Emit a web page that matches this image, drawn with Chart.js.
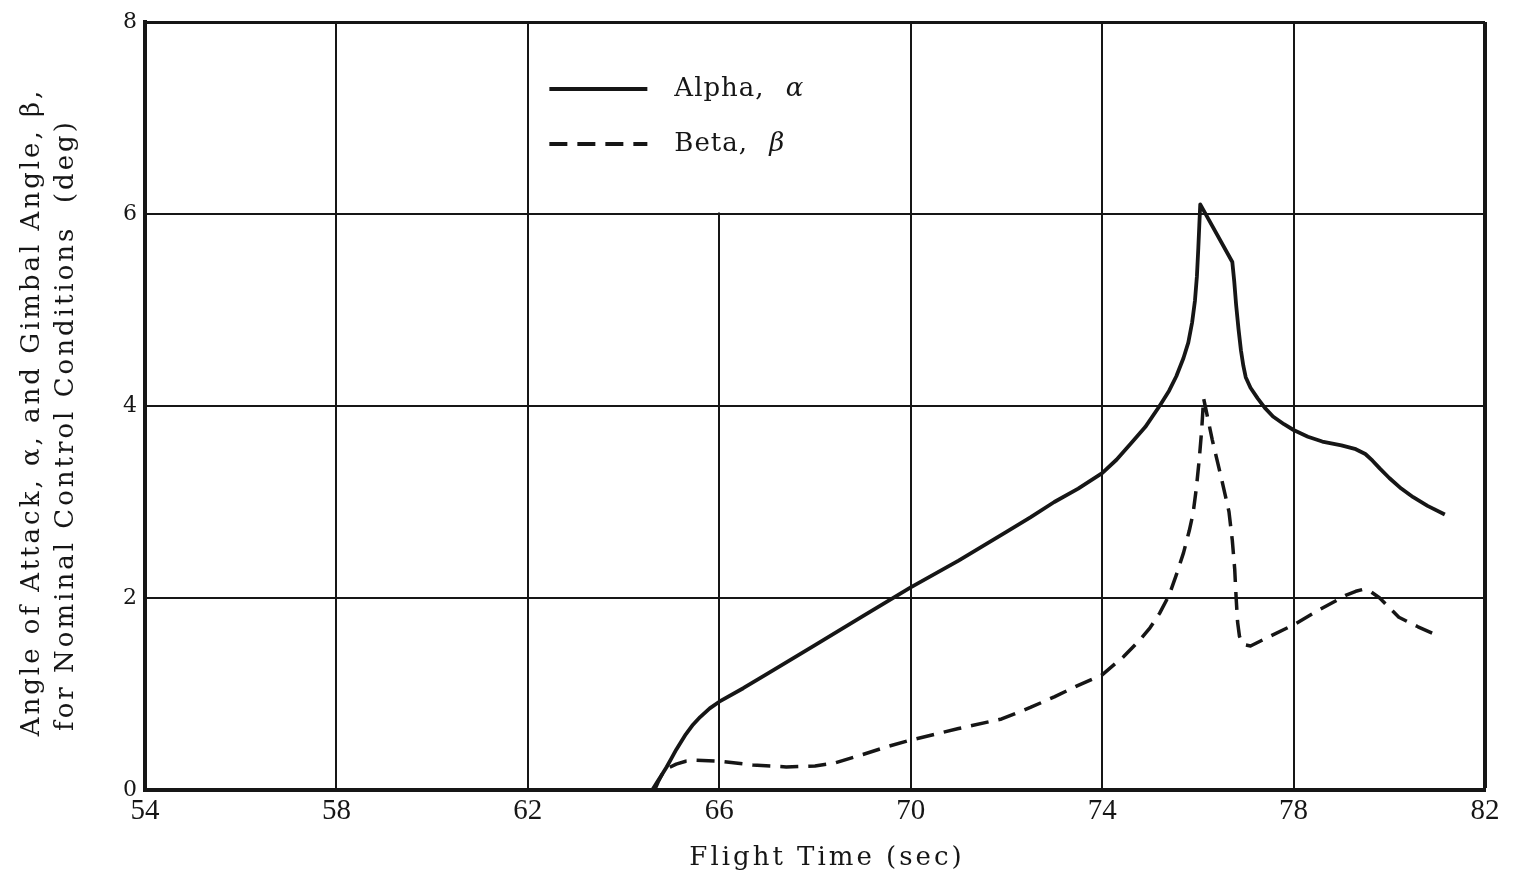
<!DOCTYPE html>
<html>
<head>
<meta charset="utf-8">
<title>Angle of attack and gimbal angle</title>
<script src="https://cdn.jsdelivr.net/npm/chart.js@4/dist/chart.umd.min.js"></script>
<style>
  html, body { margin: 0; padding: 0; background: #fff; }
  #wrap { width: 1517px; height: 879px; }
</style>
</head>
<body>
<div id="wrap"><canvas id="grafiek"></canvas></div>
<script>
// flight time (sec) and angles (deg)
const alphaTijd = [64.6, 64.7, 64.8, 64.9, 65.0, 65.1, 65.2, 65.3, 65.45, 65.6, 65.8, 66.0, 66.5, 67.0, 68.0, 69.0, 70.0, 71.0, 72.0, 72.5, 73.0, 73.5, 74.0,
                   74.3, 74.6, 74.9, 75.2, 75.4, 75.55, 75.7, 75.8, 75.88, 75.94, 75.98, 76.01, 76.03, 76.05,
                   76.72, 76.76, 76.8, 76.85, 76.9, 76.95, 77.0, 77.1, 77.25, 77.4, 77.57, 77.8, 78.0, 78.3, 78.6, 79.0, 79.3, 79.5, 79.65, 79.8, 80.0, 80.25, 80.5, 80.8, 81.16];
const alphaHoek = [0, 0.08, 0.16, 0.24, 0.33, 0.42, 0.50, 0.58, 0.68, 0.76, 0.85, 0.92, 1.06, 1.21, 1.51, 1.81, 2.11, 2.39, 2.69, 2.84, 3.0, 3.14, 3.3,
                   3.44, 3.61, 3.78, 4.0, 4.16, 4.31, 4.5, 4.66, 4.87, 5.1, 5.35, 5.65, 5.88, 6.1,
                   5.5, 5.3, 5.05, 4.8, 4.58, 4.42, 4.3, 4.19, 4.08, 3.98, 3.89, 3.81, 3.75, 3.68, 3.63, 3.59, 3.55, 3.5, 3.43, 3.35, 3.25, 3.14, 3.05, 2.96, 2.87];

const betaTijd = [64.65, 64.72, 64.8, 64.9, 65.1, 65.3, 65.5, 66.0, 66.7, 67.4, 68.0, 68.4, 69.0, 69.5, 70.0, 71.0, 71.9, 72.5, 73.0, 73.5, 74.0,
                  74.45, 74.8, 75.0, 75.2, 75.4, 75.55, 75.7, 75.82, 75.9, 75.97, 76.03, 76.08, 76.12,
                  76.3, 76.5, 76.65, 76.72, 76.77, 76.8, 76.83, 76.87, 76.93, 77.0, 77.1, 77.3, 77.5, 78.0, 78.55, 79.1, 79.3, 79.45, 79.6, 79.8, 80.0, 80.2, 80.6, 81.0];
const betaHoek = [0, 0.08, 0.16, 0.22, 0.27, 0.30, 0.31, 0.30, 0.26, 0.24, 0.25, 0.28, 0.37, 0.45, 0.52, 0.64, 0.74, 0.86, 0.97, 1.09, 1.2,
                  1.39, 1.57, 1.69, 1.84, 2.03, 2.24, 2.47, 2.7, 2.88, 3.15, 3.45, 3.75, 4.08,
                  3.65, 3.23, 2.9, 2.6, 2.3, 2.0, 1.75, 1.6, 1.53, 1.51, 1.5, 1.55, 1.6, 1.72, 1.88, 2.03, 2.07, 2.09, 2.07, 2.0, 1.9, 1.8, 1.7, 1.61];

const xMin = 54, xMax = 82, xStap = 4;
const yMin = 0, yMax = 8, yStap = 2;

const xTitel = 'Flight Time (sec)';
const yTitel = ['Angle of Attack, α, and Gimbal Angle, β,', 'for Nominal Control Conditions  (deg)'];
const legendaNaam = ['Alpha,', 'Beta,'];
const legendaSymbool = ['α', 'β'];

const inkt = '#161616';
const serif = '"DejaVu Serif", "Liberation Serif", serif';
const smal = '"Liberation Serif", "DejaVu Serif", serif';

const punten = (xs, ys) => xs.map((x, i) => ({ x, y: ys[i] }));

// white page behind the plot
const achtergrond = {
    id: 'achtergrond',
    beforeDraw(chart) {
        const { ctx, width, height } = chart;
        ctx.save();
        ctx.fillStyle = '#fff';
        ctx.fillRect(0, 0, width, height);
        ctx.restore();
    }
};

// legend sits in a blank box over the grid cell 62-70 / 6-8
const legendaBlok = {
    id: 'legendaBlok',
    beforeDatasetsDraw(chart) {
        const { ctx, scales: { x, y } } = chart;
        const l = x.getPixelForValue(62) + 1.5, r = x.getPixelForValue(70) - 1.5;
        const t = y.getPixelForValue(8) + 2, b = y.getPixelForValue(6) - 1.5;
        ctx.save();
        ctx.fillStyle = '#fff';
        ctx.fillRect(l, t, r - l, b - t);

        const x0 = l + 20, x1 = l + 118, tx = l + 145;
        const rijen = [t + 65, t + 120];
        chart.data.datasets.forEach((ds, i) => {
            ctx.beginPath();
            ctx.lineWidth = 4;
            ctx.strokeStyle = inkt;
            ctx.setLineDash(ds.borderDash || []);
            ctx.moveTo(x0, rijen[i]);
            ctx.lineTo(x1, rijen[i]);
            ctx.stroke();
            ctx.setLineDash([]);
            ctx.fillStyle = inkt;
            ctx.textBaseline = 'middle';
            ctx.font = '26px ' + serif;
            ctx.letterSpacing = '1px';
            ctx.fillText(legendaNaam[i], tx, rijen[i]);
            const w = ctx.measureText(legendaNaam[i] + ' ').width;
            ctx.font = 'italic 26px ' + serif;
            ctx.fillText(legendaSymbool[i], tx + w + 12, rijen[i]);
        });
        ctx.restore();
    }
};

// spaced-out axis titles
const asTitels = {
    id: 'asTitels',
    afterDraw(chart) {
        const { ctx, scales: { x } } = chart;
        ctx.save();
        ctx.fillStyle = inkt;
        ctx.textAlign = 'center';
        ctx.textBaseline = 'middle';

        ctx.font = '26px ' + serif;
        ctx.letterSpacing = '3px';
        ctx.fillText(xTitel, (x.left + x.right) / 2 + 12, 858);

        const kolommen = [32, 66];
        const midden = [412, 425];
        yTitel.forEach((regel, i) => {
            ctx.save();
            ctx.translate(kolommen[i], midden[i]);
            ctx.rotate(-Math.PI / 2);
            ctx.fillText(regel, 0, 0);
            ctx.restore();
        });
        ctx.restore();
    }
};

new Chart(document.getElementById('grafiek'), {
    type: 'line',
    data: {
        datasets: [
            { label: 'Alpha', data: punten(alphaTijd, alphaHoek), borderColor: inkt, borderWidth: 3.8,
              pointRadius: 0, tension: 0, borderJoinStyle: 'round', fill: false },
            { label: 'Beta', data: punten(betaTijd, betaHoek), borderColor: inkt, borderWidth: 3.5,
              borderDash: [18, 10], pointRadius: 0, tension: 0, borderJoinStyle: 'round', fill: false }
        ]
    },
    options: {
        responsive: true,
        maintainAspectRatio: false,
        animation: false,
        layout: { padding: { top: 22, right: 32, left: 0, bottom: 0 } },
        plugins: { legend: { display: false }, tooltip: { enabled: false } },
        scales: {
            x: {
                type: 'linear', min: xMin, max: xMax,
                afterFit: s => { s.height = 89; },
                ticks: { stepSize: xStap, color: inkt, padding: 4,
                         font: { family: smal, size: 29 } },
                grid: { color: inkt, drawTicks: false,
                        lineWidth: c => (c.tick && c.tick.value === xMax) ? 4 : 2 },
                border: { color: inkt, width: 4 }
            },
            y: {
                type: 'linear', min: yMin, max: yMax,
                afterFit: s => { s.width = 145; },
                ticks: { stepSize: yStap, color: inkt, padding: 8,
                         font: { family: serif, size: 22 } },
                grid: { color: inkt, drawTicks: false,
                        lineWidth: c => (c.tick && c.tick.value === yMax) ? 3 : 2 },
                border: { color: inkt, width: 4 }
            }
        }
    },
    plugins: [achtergrond, legendaBlok, asTitels]
});
</script>
</body>
</html>
